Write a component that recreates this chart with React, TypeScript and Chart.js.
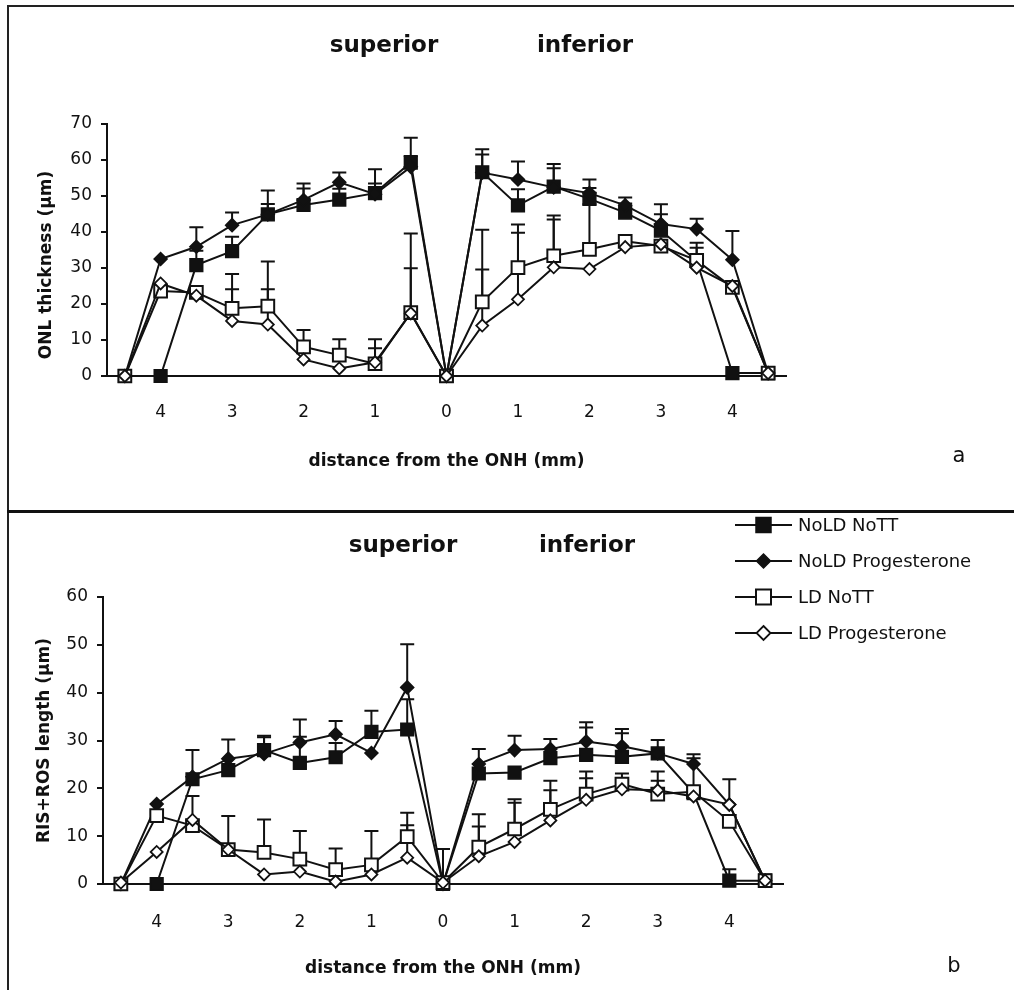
import React, { useEffect, useRef } from 'react';
import { Chart, registerables } from 'chart.js';

Chart.register(...registerables);

// ---------------- data ----------------
const positions = [-4.5, -4, -3.5, -3, -2.5, -2, -1.5, -1, -0.5, 0, 0.5, 1, 1.5, 2, 2.5, 3, 3.5, 4, 4.5];
const tickValues = [-4, -3, -2, -1, 0, 1, 2, 3, 4];
const tickLabels = ['4', '3', '2', '1', '0', '1', '2', '3', '4'];
const seriesNames = ['NoLD NoTT', 'NoLD Progesterone', 'LD NoTT', 'LD Progesterone'];

// Panel a: ONL thickness (µm), upper error bars
const onlNoLDNoTT = [0, 0, 30.8, 34.7, 44.9, 47.5, 49, 50.8, 59.3, 0, 56.6, 47.4, 52.6, 49.2, 45.4, 40.4, 32, 0.8, 0.8];
const onlNoLDNoTTErr = [0, 0, 4, 4, 6.6, 4.6, 3, 6.6, 6.9, 0, 6.4, 4.5, 6.3, 3, 2.5, 4.5, 0, 0, 0];
const onlNoLDProg = [0, 32.5, 35.9, 41.9, 44.9, 48.9, 53.8, 50.5, 58.1, 0, 56.5, 54.6, 52.4, 50.8, 47.4, 42.2, 40.8, 32.3, 0.8];
const onlNoLDProgErr = [0, 0, 5.4, 3.5, 2.9, 4.6, 2.7, 3, 3, 0, 5, 5, 5.3, 3.8, 2.2, 5.5, 2.9, 8, 0];
const onlLDNoTT = [0, 23.6, 23.2, 18.8, 19.4, 8.1, 5.8, 3.4, 17.6, 0, 20.6, 30.1, 33.4, 35.2, 37.4, 36.1, 32.1, 24.6, 0.8];
const onlLDNoTTErr = [0, 0, 0, 9.5, 12.4, 4.7, 4.4, 6.8, 22, 0, 20, 12, 11.2, 12.5, 0, 0, 4.9, 0, 0];
const onlLDProg = [0, 25.7, 22.3, 15.3, 14.3, 4.6, 2.1, 3.8, 17.4, 0, 14, 21.3, 30.2, 29.7, 35.8, 36.6, 30.1, 25, 0.8];
const onlLDProgErr = [0, 0, 0, 8.8, 9.8, 0, 0, 3.9, 12.5, 0, 15.6, 18.5, 13.3, 0, 0, 0, 5.5, 0, 0];

// Panel b: RIS+ROS length (µm), upper error bars
const risNoLDNoTT = [0, 0, 21.9, 23.8, 28, 25.3, 26.5, 31.8, 32.3, 0, 23.1, 23.3, 26.3, 27, 26.6, 27.3, 19, 0.7, 0.7];
const risNoLDNoTTErr = [0, 0, 6.1, 0, 3, 5.5, 3, 4.4, 6.3, 0, 5.1, 0, 4, 5.7, 4.9, 2.8, 0, 2.4, 0];
const risNoLDProg = [0, 16.7, 22.4, 26.2, 27.2, 29.6, 31.3, 27.4, 41.1, 0, 25.1, 28, 28.2, 29.8, 28.8, 27.3, 25.1, 16.6, 0.7];
const risNoLDProgErr = [0, 0, 0, 4, 3.5, 4.8, 2.8, 0, 9, 0, 0, 3, 0, 4, 3.6, 0, 2, 0, 0];
const risLDNoTT = [0, 14.3, 12.2, 7.2, 6.6, 5.2, 3, 4, 9.9, 0.3, 7.7, 11.5, 15.6, 18.8, 20.9, 18.8, 19.3, 13.1, 0.7];
const risLDNoTTErr = [0, 0, 6.2, 7, 6.9, 5.9, 4.4, 7.1, 5, 7, 6.9, 6.2, 6, 4.7, 2.2, 4.7, 7, 0, 0];
const risLDProg = [0.3, 6.7, 13.4, 7.2, 2, 2.6, 0.5, 2, 5.5, 0.3, 5.8, 8.8, 13.3, 17.6, 19.8, 19.6, 18.3, 16.6, 0.7];
const risLDProgErr = [0, 0, 0, 0, 0, 0, 0, 0, 6.8, 0, 6.2, 8.2, 6.3, 4.5, 0, 2, 0, 5.3, 0];

// ---------------- styles ----------------
const INK = '#111111';
const FAMILY = "'DejaVu Sans', 'Liberation Sans', sans-serif";

const seriesStyles = [
  { pointStyle: 'rect', radius: 9, fill: INK, bw: 1.5, order: 3, legendSize: 15 },
  { pointStyle: 'rectRot', radius: 6.5, fill: INK, bw: 1.5, order: 2, legendSize: 14 },
  { pointStyle: 'rect', radius: 9, fill: '#ffffff', bw: 2, order: 1, legendSize: 15 },
  { pointStyle: 'rectRot', radius: 6, fill: '#ffffff', bw: 1.8, order: 0, legendSize: 14 },
];

type TextItem = { text: string; x: number; y: number; font: string; align?: CanvasTextAlign; rotate?: number; baseline?: CanvasTextBaseline };

function textPlugin(items: TextItem[]) {
  return {
    id: 'figText',
    afterDraw(chart: any) {
      const ctx = chart.ctx;
      for (const it of items) {
        ctx.save();
        ctx.fillStyle = INK;
        ctx.font = it.font;
        ctx.textAlign = it.align || 'center';
        ctx.textBaseline = it.baseline || 'alphabetic';
        ctx.translate(it.x, it.y);
        if (it.rotate) ctx.rotate(it.rotate);
        ctx.fillText(it.text, 0, 0);
        ctx.restore();
      }
    },
  };
}

const errorBarPlugin = {
  id: 'errorBars',
  beforeDatasetsDraw(chart: any) {
    const ctx = chart.ctx;
    const xs = chart.scales.x;
    const ys = chart.scales.y;
    ctx.save();
    ctx.strokeStyle = INK;
    ctx.lineWidth = 2;
    chart.data.datasets.forEach((ds: any, i: number) => {
      if (!chart.isDatasetVisible(i) || !ds.errors) return;
      ds.data.forEach((pt: any, j: number) => {
        const e = ds.errors[j];
        if (!e) return;
        const x = xs.getPixelForValue(pt.x);
        const y0 = ys.getPixelForValue(pt.y);
        const y1 = ys.getPixelForValue(pt.y + e);
        ctx.beginPath();
        ctx.moveTo(x, y0);
        ctx.lineTo(x, y1);
        ctx.moveTo(x - 7, y1);
        ctx.lineTo(x + 7, y1);
        ctx.stroke();
      });
    });
    ctx.restore();
  },
};

function drawMarker(ctx: CanvasRenderingContext2D, style: string, x: number, y: number, size: number, fill: string, bw: number) {
  ctx.beginPath();
  if (style === 'rect') {
    ctx.rect(x - size / 2, y - size / 2, size, size);
  } else {
    ctx.moveTo(x, y - size / 2);
    ctx.lineTo(x + size / 2, y);
    ctx.lineTo(x, y + size / 2);
    ctx.lineTo(x - size / 2, y);
    ctx.closePath();
  }
  ctx.fillStyle = fill;
  ctx.fill();
  ctx.lineWidth = bw;
  ctx.strokeStyle = INK;
  ctx.stroke();
}

function legendPlugin(left: number, top: number, rowGap: number, lineLen: number, gap: number) {
  return {
    id: 'figLegend',
    afterDraw(chart: any) {
      const ctx = chart.ctx;
      ctx.save();
      chart.data.datasets.forEach((ds: any, i: number) => {
        const st = seriesStyles[i];
        const y = top + i * rowGap;
        ctx.beginPath();
        ctx.moveTo(left, y);
        ctx.lineTo(left + lineLen, y);
        ctx.lineWidth = 2;
        ctx.strokeStyle = INK;
        ctx.stroke();
        drawMarker(ctx, st.pointStyle, left + lineLen / 2, y, st.legendSize, st.fill, st.bw);
        ctx.fillStyle = INK;
        ctx.font = `18px ${FAMILY}`;
        ctx.textAlign = 'left';
        ctx.textBaseline = 'middle';
        ctx.fillText(ds.label, left + lineLen + gap, y + 1);
      });
      ctx.restore();
    },
  };
}

type PanelSpec = {
  width: number;
  height: number;
  values: number[][];
  errors: number[][];
  yMax: number;
  yTitle: string;
  yTitleBuiltIn: boolean;
  yAxisWidth: number;
  padding: { left: number; right: number; top: number; bottom: number };
  xTickPad: number;
  xTitlePadBottom: number;
  yTitlePadTop: number;
  texts: TextItem[];
  legend?: { left: number; top: number; rowGap: number; lineLen: number; gap: number };
};

function buildConfig(p: PanelSpec): any {
  const datasets = p.values.map((vals, i) => {
    const st = seriesStyles[i];
    return {
      label: seriesNames[i],
      data: positions.map((x, j) => ({ x, y: vals[j] })),
      errors: p.errors[i],
      borderColor: INK,
      borderWidth: 2,
      backgroundColor: st.fill,
      pointStyle: st.pointStyle,
      pointRadius: st.radius,
      pointHoverRadius: st.radius,
      pointBackgroundColor: st.fill,
      pointBorderColor: INK,
      pointBorderWidth: st.bw,
      tension: 0,
      fill: false,
      clip: false,
      order: st.order,
    };
  });
  const plugins: any[] = [errorBarPlugin, textPlugin(p.texts)];
  if (p.legend) {
    const l = p.legend;
    plugins.push(legendPlugin(l.left, l.top, l.rowGap, l.lineLen, l.gap));
  }
  return {
    type: 'line',
    data: { datasets },
    plugins,
    options: {
      responsive: false,
      maintainAspectRatio: false,
      animation: false,
      events: [],
      layout: { padding: p.padding, autoPadding: false },
      plugins: {
        legend: { display: false },
        tooltip: { enabled: false },
        title: { display: false },
      },
      scales: {
        x: {
          type: 'linear',
          min: -4.75,
          max: 4.75,
          afterBuildTicks: (axis: any) => {
            axis.ticks = tickValues.map((v) => ({ value: v }));
          },
          afterFit: (axis: any) => {
            axis.height = 100;
          },
          ticks: {
            autoSkip: false,
            maxRotation: 0,
            padding: p.xTickPad,
            color: INK,
            font: { family: FAMILY, size: 17 },
            callback: (v: any) => {
              const k = tickValues.indexOf(Number(v));
              return k >= 0 ? tickLabels[k] : '';
            },
          },
          grid: { display: false },
          border: { display: true, color: INK, width: 2 },
          title: {
            display: true,
            text: 'distance from the ONH (mm)',
            color: INK,
            font: { family: FAMILY, size: 17, weight: 'bold' },
            padding: { top: 0, bottom: p.xTitlePadBottom },
          },
        },
        y: {
          type: 'linear',
          min: 0,
          max: p.yMax,
          afterFit: (axis: any) => {
            axis.width = p.yAxisWidth;
          },
          ticks: {
            stepSize: 10,
            padding: 9,
            color: INK,
            font: { family: FAMILY, size: 17 },
          },
          grid: { drawOnChartArea: false, drawTicks: true, tickLength: 6, color: INK, lineWidth: 2 },
          border: { display: true, color: INK, width: 2 },
          title: {
            display: p.yTitleBuiltIn,
            text: p.yTitle,
            color: INK,
            font: { family: FAMILY, size: 17, weight: 'bold' },
            padding: { top: p.yTitlePadTop, bottom: 0 },
          },
        },
      },
    },
  };
}

const panelA: PanelSpec = {
  width: 1005,
  height: 504,
  values: [onlNoLDNoTT, onlNoLDProg, onlLDNoTT, onlLDProg],
  errors: [onlNoLDNoTTErr, onlNoLDProgErr, onlLDNoTTErr, onlLDProgErr],
  yMax: 70,
  yTitle: 'ONL thickness (μm)',
  yTitleBuiltIn: false,
  yAxisWidth: 98,
  padding: { left: 0, right: 228, top: 117, bottom: 35 },
  xTickPad: 18,
  xTitlePadBottom: 4,
  yTitlePadTop: 28,
  texts: [
    { text: 'superior', x: 375, y: 45, font: `bold 23px ${FAMILY}` },
    { text: 'inferior', x: 576, y: 45, font: `bold 23px ${FAMILY}` },
    { text: 'a', x: 950, y: 455, font: `21px ${FAMILY}` },
    { text: 'ONL thickness (μm)', x: 38, y: 258, font: `bold 17px ${FAMILY}`, rotate: -Math.PI / 2, baseline: 'middle' },
  ],
};

const panelB: PanelSpec = {
  width: 1005,
  height: 477,
  values: [risNoLDNoTT, risNoLDProg, risLDNoTT, risLDProg],
  errors: [risNoLDNoTTErr, risNoLDProgErr, risLDNoTTErr, risLDProgErr],
  yMax: 60,
  yTitle: 'RIS+ROS length (μm)',
  yTitleBuiltIn: true,
  yAxisWidth: 94,
  padding: { left: 0, right: 231, top: 84, bottom: 6 },
  xTickPad: 20,
  xTitlePadBottom: 5,
  yTitlePadTop: 25,
  texts: [
    { text: 'superior', x: 394, y: 39, font: `bold 23px ${FAMILY}` },
    { text: 'inferior', x: 578, y: 39, font: `bold 23px ${FAMILY}` },
    { text: 'b', x: 945, y: 459, font: `21px ${FAMILY}` },
  ],
  legend: { left: 726, top: 12, rowGap: 36, lineLen: 57, gap: 6 },
};

function Panel({ spec, left, top }: { spec: PanelSpec; left: number; top: number }) {
  const ref = useRef<HTMLCanvasElement | null>(null);
  useEffect(() => {
    if (!ref.current) return;
    const chart = new Chart(ref.current, buildConfig(spec));
    return () => chart.destroy();
  }, [spec]);
  return (
    <canvas
      ref={ref}
      width={spec.width}
      height={spec.height}
      style={{ position: 'absolute', left, top, width: spec.width, height: spec.height }}
    />
  );
}

export default function App() {
  return (
    <div style={{ position: 'absolute', left: 0, top: 0, width: 1014, height: 990, background: '#ffffff', overflow: 'hidden' }}>
      <div style={{ position: 'absolute', left: 7, top: 5, width: 1007, height: 2, background: '#222' }} />
      <div style={{ position: 'absolute', left: 7, top: 5, width: 2, height: 985, background: '#222' }} />
      <div style={{ position: 'absolute', left: 7, top: 510, width: 1007, height: 3, background: '#111' }} />
      <Panel spec={panelA} left={9} top={7} />
      <Panel spec={panelB} left={9} top={513} />
    </div>
  );
}
